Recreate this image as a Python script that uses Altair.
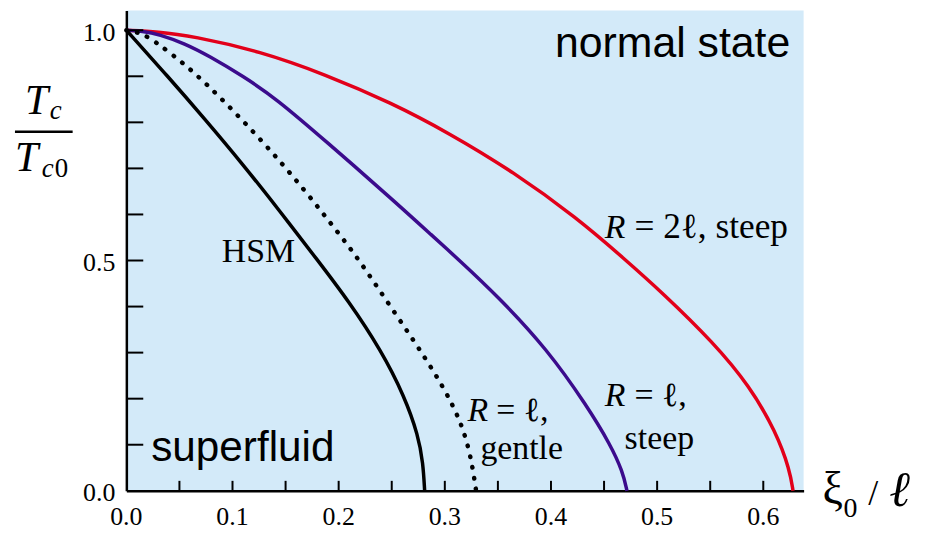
import altair as alt
import pandas as pd

# ---- data ----
hsm_x = [0.0, 0.039, 0.074, 0.109, 0.144, 0.181, 0.209, 0.240, 0.262, 0.275, 0.2795, 0.281]
hsm_y = [1.0, 0.900, 0.807, 0.711, 0.609, 0.498, 0.413, 0.305, 0.205, 0.120, 0.060, 0.0]

gentle_x = [0.0, 0.010, 0.020, 0.042, 0.072, 0.125, 0.166, 0.203, 0.219, 0.253, 0.284, 0.309, 0.323, 0.3295]
gentle_y = [1.0, 0.996, 0.987, 0.950, 0.893, 0.768, 0.659, 0.550, 0.502, 0.386, 0.281, 0.184, 0.098, 0.0]

steep1_x = [0.0, 0.015, 0.031, 0.055, 0.078, 0.110, 0.141, 0.1875, 0.250, 0.290, 0.3125, 0.350, 0.3966, 0.434, 0.456, 0.4675, 0.4716]
steep1_y = [1.0, 0.998, 0.991, 0.971, 0.944, 0.900, 0.852, 0.760, 0.634, 0.550, 0.503, 0.422, 0.307, 0.184, 0.100, 0.042, 0.0]

steep2_x = [0.0, 0.030, 0.0625, 0.125, 0.1875, 0.250, 0.303, 0.365, 0.4247, 0.4685, 0.506, 0.553, 0.587, 0.612, 0.625, 0.628]
steep2_y = [1.0, 0.997, 0.987, 0.955, 0.904, 0.842, 0.778, 0.692, 0.592, 0.505, 0.428, 0.322, 0.228, 0.128, 0.045, 0.0]

x_label_values = [0.0, 0.1, 0.2, 0.3, 0.4, 0.5, 0.6]
x_label_texts = ["0.0", "0.1", "0.2", "0.3", "0.4", "0.5", "0.6"]
y_label_values = [0.0, 0.5, 1.0]
y_label_texts = ["0.0", "0.5", "1.0"]
x_tick_values = [0.05, 0.10, 0.15, 0.20, 0.25, 0.30, 0.35, 0.40, 0.45, 0.50, 0.55, 0.60]
y_tick_values = [0.1, 0.2, 0.3, 0.4, 0.5, 0.6, 0.7, 0.8, 0.9, 1.0]

W, H = 681, 483
RED = "#e2001a"
PURPLE = "#3b0b8c"
BG = "#d3eaf9"
SERIF = "Liberation Serif"
SANS = "Liberation Sans"

xs = alt.Scale(domain=[0, 0.638], nice=False, zero=False)
ys = alt.Scale(domain=[0, 1.043], nice=False, zero=False)

xaxis = alt.Axis(values=x_label_values, labels=False, ticks=False, grid=False,
                 domainColor="black", domainWidth=2.5, title=None)
yaxis = alt.Axis(values=y_label_values, labels=False, ticks=False, grid=False,
                 domainColor="black", domainWidth=2.5, title=None)


def curve(xv, yv, color, dotted=False):
    df = pd.DataFrame({"x": xv, "y": yv})
    kw = dict(color=color, strokeWidth=3.5, interpolate="basis")
    if dotted:
        kw.update(strokeDash=[0.5, 10.5], strokeCap="round", strokeWidth=4.5)
    return alt.Chart(df).mark_line(**kw).encode(
        x=alt.X("x:Q", scale=xs, axis=xaxis),
        y=alt.Y("y:Q", scale=ys, axis=yaxis),
    )


one = pd.DataFrame({"a": [0]})


def label(text, vx, vy, size, font=SERIF, style="normal"):
    return alt.Chart(one).mark_text(text=text, font=font, fontSize=size, fontStyle=style,
                                    align="left", baseline="alphabetic", color="black").encode(
        x=alt.value(vx), y=alt.value(vy))


yt = alt.Chart(pd.DataFrame({"x": [0.0] * len(y_tick_values), "y": y_tick_values})).mark_rule(
    color="black", strokeWidth=2).encode(
    y=alt.Y("y:Q", scale=ys, axis=yaxis), x=alt.value(0), x2=alt.value(17))
xt = alt.Chart(pd.DataFrame({"x": x_tick_values, "y": [0.0] * len(x_tick_values)})).mark_rule(
    color="black", strokeWidth=2).encode(
    x=alt.X("x:Q", scale=xs, axis=xaxis), y=alt.value(H), y2=alt.value(H - 10))

xl = alt.Chart(pd.DataFrame({"x": x_label_values, "t": x_label_texts})).mark_text(
    font=SERIF, fontSize=26, align="center", baseline="alphabetic", color="black").encode(
    x=alt.X("x:Q", scale=xs, axis=xaxis), y=alt.value(H + 34), text="t:N")
yl = alt.Chart(pd.DataFrame({"y": y_label_values, "t": y_label_texts})).mark_text(
    font=SERIF, fontSize=26, align="right", baseline="alphabetic", color="black", dy=10.5).encode(
    y=alt.Y("y:Q", scale=ys, axis=yaxis), x=alt.value(-11), text="t:N")

frac_bar = alt.Chart(one).mark_rule(color="black", strokeWidth=2.5).encode(
    x=alt.value(-112), x2=alt.value(-54), y=alt.value(122))

layers = [
    curve(steep2_x, steep2_y, RED),
    curve(steep1_x, steep1_y, PURPLE),
    curve(gentle_x, gentle_y, "black", dotted=True),
    curve(hsm_x, hsm_y, "black"),
    yt, xt, xl, yl,
    # y-axis title  T_c / T_c0
    label("T", -102, 104, 42, style="italic"),
    label("c", -77, 109, 27, style="italic"),
    frac_bar,
    label("T", -112, 161, 42, style="italic"),
    label("c", -85, 167, 27, style="italic"),
    label("0", -72, 167, 27),
    # x-axis title  xi_0 / l
    label("ξ", 700, 496, 46),
    label("0", 721, 509, 28),
    label("/", 746, 497, 36),
    label("ℓ", 767, 498, 50, style="italic"),
    # region labels
    label("normal state", 431, 47, 43, font=SANS),
    label("superfluid", 25, 453, 42.5, font=SANS),
    # curve labels
    label("HSM", 96, 253, 34),
    label("R", 343, 413, 34, style="italic"),
    label("= ℓ,", 372, 413, 34),
    label("gentle", 356, 451, 34),
    label("R", 481, 398, 34, style="italic"),
    label("= ℓ,", 511, 398, 34),
    label("steep", 501, 441, 34),
    label("R", 481, 229, 34, style="italic"),
    label("= 2ℓ, steep", 511, 229, 35.5),
]

chart = alt.layer(*layers).properties(
    width=W, height=H,
    padding={"left": 119, "top": 1, "right": 114, "bottom": 40},
    autosize=alt.AutoSizeParams(type="none"),
).configure_view(fill=BG, strokeWidth=0)

chart.save("out.html", embed_options={"renderer": "svg", "actions": False})
